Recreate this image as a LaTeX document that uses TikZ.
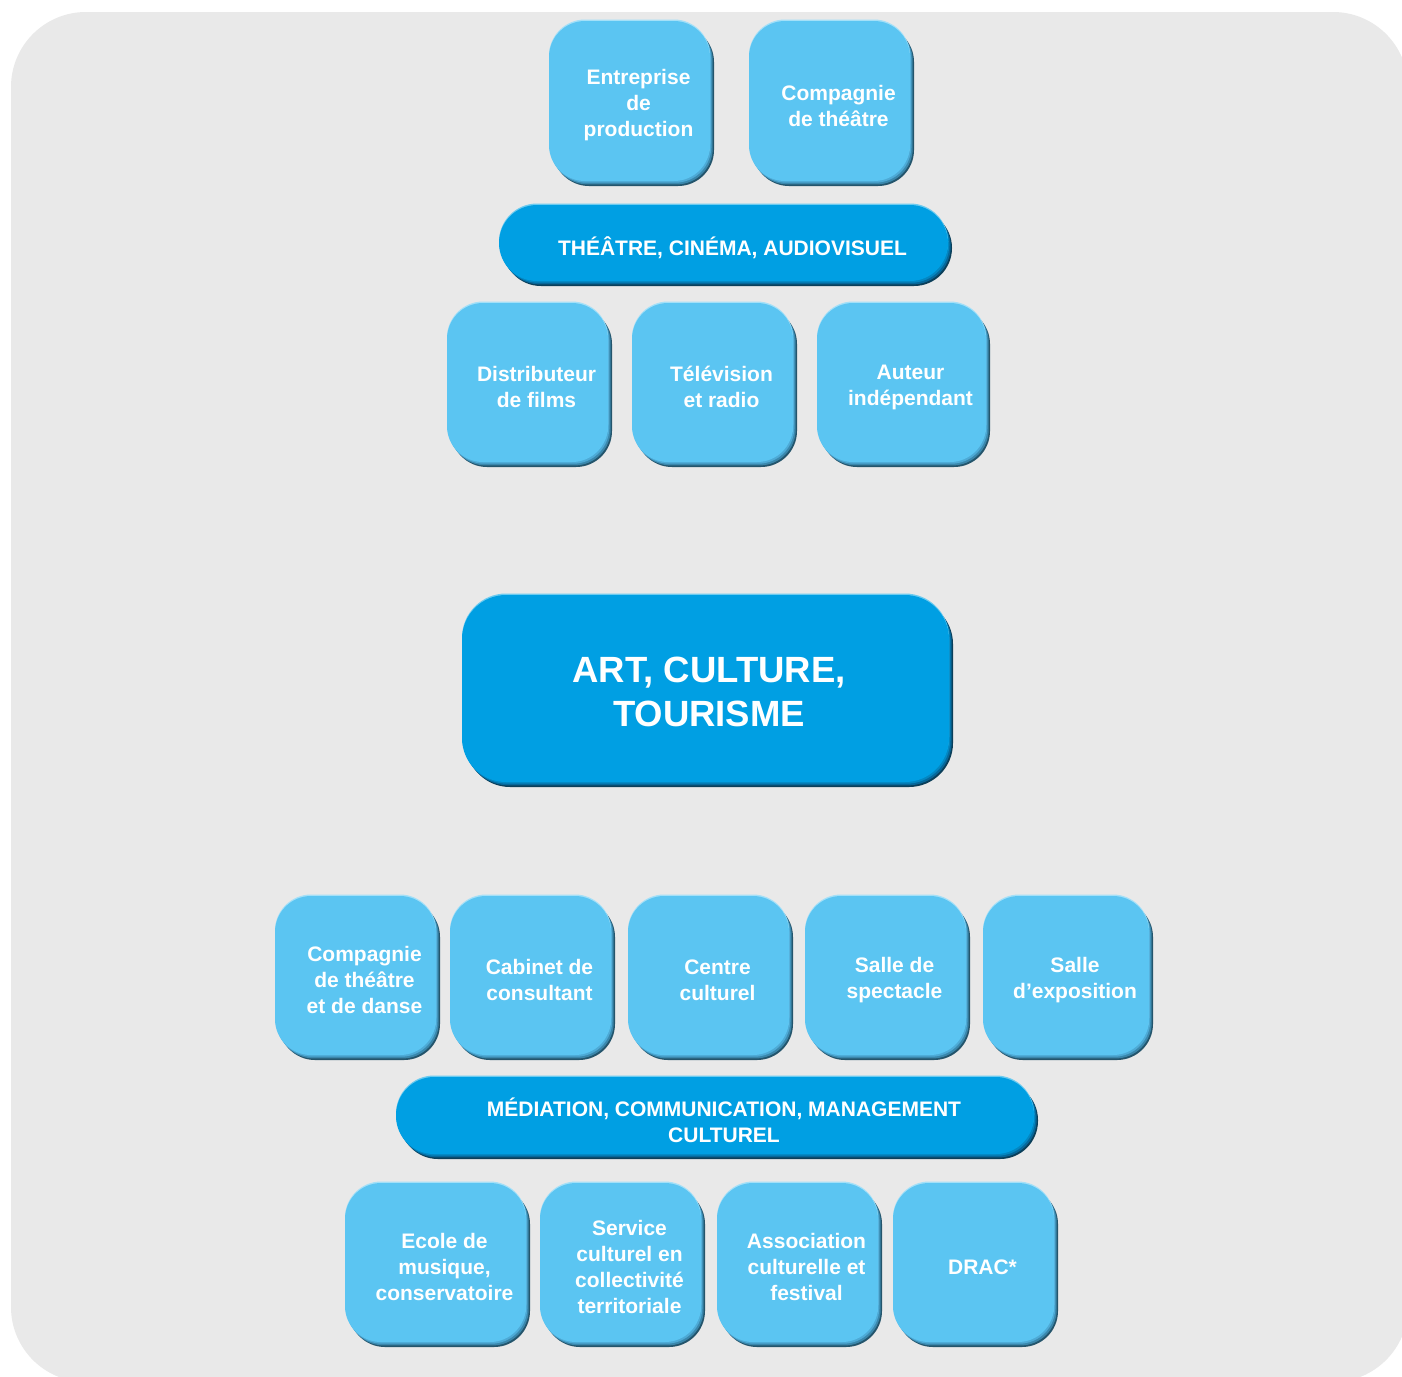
\documentclass[tikz,border=0pt]{standalone}
\usepackage{fontspec}
\setmainfont{Liberation Sans}
\usetikzlibrary{shadows}
\definecolor{bg}{HTML}{E9E9E9}
\definecolor{lite}{HTML}{5BC5F2}
\definecolor{deep}{HTML}{009FE3}
\definecolor{liteS1}{HTML}{24556C}
\definecolor{liteS2}{HTML}{3A87AC}
\definecolor{liteS3}{HTML}{4DAAD6}
\definecolor{deepS1}{HTML}{0B3F5A}
\definecolor{deepS2}{HTML}{06679A}
\definecolor{deepS3}{HTML}{0387C2}
\definecolor{liteH}{HTML}{A4E0F8}
\definecolor{deepH}{HTML}{6CCBF0}
\tikzset{
  base/.style={rectangle, inner sep=0pt, draw=none},
  litebox/.style={base, rounded corners=36pt, fill=lite,
    general shadow={fill=liteS1, shadow xshift=4pt, shadow yshift=-5pt},
    general shadow={fill=liteS2, shadow xshift=2.7pt, shadow yshift=-3.4pt},
    general shadow={fill=liteS3, shadow xshift=1.3pt, shadow yshift=-1.7pt},
    general shadow={fill=liteH, shadow xshift=0pt, shadow yshift=1.5pt}},
  deepbox/.style={base, rounded corners=38pt, fill=deep,
    general shadow={fill=deepS1, shadow xshift=4pt, shadow yshift=-5pt},
    general shadow={fill=deepS2, shadow xshift=2.7pt, shadow yshift=-3.4pt},
    general shadow={fill=deepS3, shadow xshift=1.3pt, shadow yshift=-1.7pt},
    general shadow={fill=deepH, shadow xshift=0pt, shadow yshift=1.5pt}},
  bigbox/.style={deepbox, rounded corners=44pt},
  txt/.style={text=white, font=\bfseries\fontsize{21}{26}\selectfont, align=center, inner sep=0pt},
  bigtxt/.style={txt, font=\bfseries\fontsize{36.5}{44}\selectfont}
}
\newcommand\bx[8][9]{%
  \node[#7, minimum width={#5-#3-4}, minimum height={#6-#4-5}] (#2) at ({(#3+#5-4)/2},{(#4+#6-5)/2}) {};
  \node[txt] (#2-t) at ([xshift=#1pt, yshift=-4.5pt]#2.center) {#8};
}
\begin{document}
\begin{tikzpicture}[x=1pt, y=-1pt]
  \useasboundingbox (0,0) rectangle (1402,1376);
  \clip (0,0) rectangle (1402,1376);
  \fill[white] (0,0) rectangle (1402,1376);
  \fill[bg, rounded corners=75pt] (11,12) rectangle (1408,1382);

  % top group
  \bx{e1}{549}{21}{714}{186}{litebox}{Entreprise\\de\\production}
  \bx{e2}{749}{21}{914}{186}{litebox}{Compagnie\\de théâtre}
  \bx{b1}{499}{205}{952}{286}{deepbox}{THÉÂTRE, CINÉMA, AUDIOVISUEL}
  \bx{d1}{447}{303}{612}{467}{litebox}{Distributeur\\de films}
  \bx{d2}{632}{303}{797}{467}{litebox}{Télévision\\et radio}
  \bx{d3}{817}{303}{990}{467}{litebox}{Auteur\\indépendant}

  % centre
  \node[bigbox, minimum width=487, minimum height=187] (art) at ({(462+953-4)/2},{(595+787-5)/2}) {};
  \node[bigtxt] (art-t) at ([xshift=3.5pt, yshift=-3pt]art.center) {ART, CULTURE,\\TOURISME};

  % bottom group
  \bx{m1}{275}{896}{440}{1060}{litebox}{Compagnie\\de théâtre\\et de danse}
  \bx{m2}{450}{896}{615}{1060}{litebox}{Cabinet de\\consultant}
  \bx{m3}{628}{896}{793}{1060}{litebox}{Centre\\culturel}
  \bx{m4}{805}{896}{970}{1060}{litebox}{Salle de\\spectacle}
  \bx{m5}{983}{896}{1153}{1060}{litebox}{Salle\\d’exposition}
  \bx{b2}{396}{1077}{1038}{1159}{deepbox}{MÉDIATION, COMMUNICATION, MANAGEMENT\\CULTUREL}
  \bx{n1}{345}{1183}{530}{1347}{litebox}{Ecole de\\musique,\\conservatoire}
  \bx{n2}{540}{1183}{705}{1347}{litebox}{Service\\culturel en\\collectivité\\territoriale}
  \bx{n3}{717}{1183}{882}{1347}{litebox}{Association\\culturelle et\\festival}
  \bx{n4}{893}{1183}{1058}{1347}{litebox}{DRAC*}
\end{tikzpicture}
\end{document}
